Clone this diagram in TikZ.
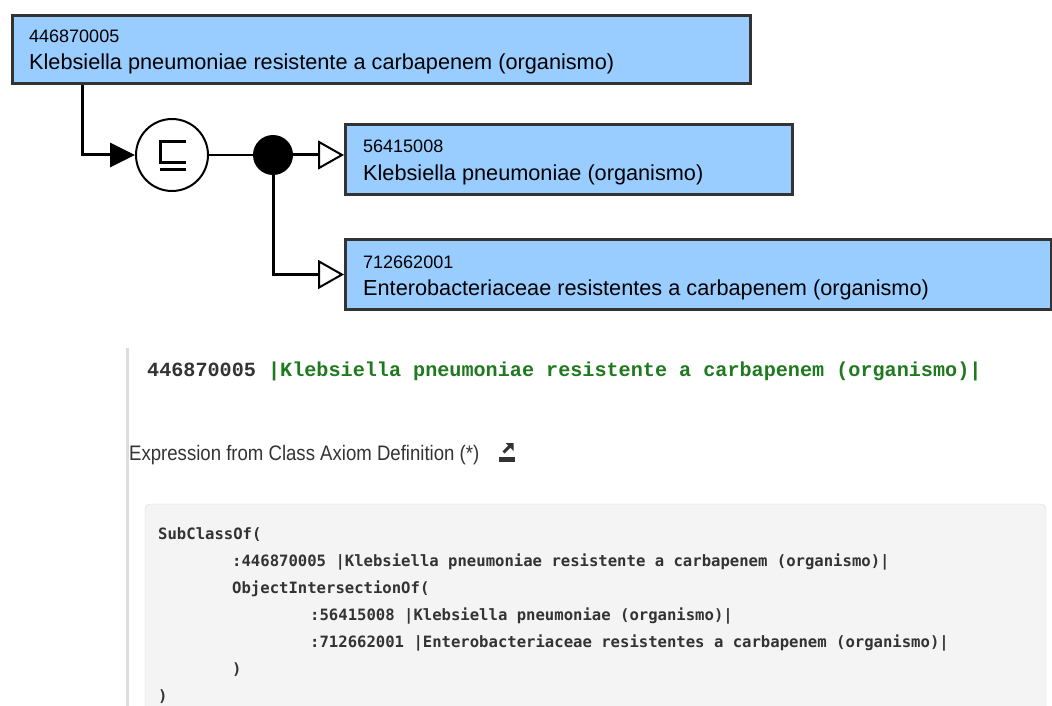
\documentclass[tikz,border=0pt]{standalone}
\usepackage{fontspec}
\usepackage{graphicx}
\setmainfont{Liberation Sans}
\newfontfamily\hdrmono{Liberation Mono}
\newfontfamily\codemono{DejaVu Sans Mono}
\usetikzlibrary{arrows.meta,calc}
\definecolor{boxfill}{HTML}{99CCFF}
\definecolor{boxedge}{HTML}{333333}
\definecolor{ink}{HTML}{333333}
\definecolor{termgreen}{HTML}{1F7A1F}
\definecolor{codebg}{HTML}{F4F4F4}
\definecolor{codeedge}{HTML}{D9D9D9}
\definecolor{rulegray}{HTML}{DDDDDD}
\tikzset{
  concept/.style={draw=boxedge, fill=boxfill, line width=3pt, rectangle,
    inner sep=0pt, anchor=north west},
  cid/.style={anchor=base west, inner sep=0pt, font=\fontsize{18}{20}\selectfont, text=black},
  cname/.style={anchor=base west, inner sep=0pt, font=\fontsize{21.7}{24}\selectfont, text=black},
  codeline/.style={anchor=base west, inner sep=0pt, text=ink,
    font=\codemono\bfseries\fontsize{15.6}{18}\selectfont},
  isa/.style={line width=3pt, -{Triangle[length=25pt,width=24pt]}},
  part/.style={line width=3pt, -{Triangle[length=26pt,width=29pt,fill=white,line width=2pt]}},
}
\begin{document}
\begin{tikzpicture}[x=1pt,y=-1pt]
\useasboundingbox (0,0) rectangle (1052,706);
\clip (0,0) rectangle (1052,706);

% concept boxes
\node[concept, minimum width=738pt, minimum height=68pt] (c1) at (11,14) {};
\node[concept, minimum width=447pt, minimum height=70pt] (c2) at (344,123) {};
\node[concept, minimum width=706pt, minimum height=70pt] (c3) at (344,238) {};

\node[cid]   (c1id)   at (29,43)  {446870005};
\node[cname] (c1name) at (29,70)  {Klebsiella pneumoniae resistente a carbapenem (organismo)};
\node[cid]   (c2id)   at (363,153) {56415008};
\node[cname] (c2name) at (363,180) {Klebsiella pneumoniae (organismo)};
\node[cid]   (c3id)   at (363,268) {712662001};
\node[cname] (c3name) at (363,295) {Enterobacteriaceae resistentes a carbapenem (organismo)};

% subsumption operator and conjunction point
\node[circle, draw, line width=2pt, minimum size=72pt, inner sep=0pt] (sub) at (172,155) {};
\begin{scope}[shift={(sub.center)}, line width=3pt]
  \draw (14,-13) -- (-12,-13) -- (-12,7) -- (14,7);
  \draw (-12,14) -- (14,14);
\end{scope}
\node[circle, fill=black, minimum size=40pt, inner sep=0pt] (join) at (273,155) {};

% connectors
\draw[isa] ([xshift=71pt]c1.south west) |- (sub.west);
\draw[line width=2pt] (sub.east) -- (join.west);
\draw[part] (join.east) -- (c2.west |- join);
\draw[part] (join.south) |- (c3.west);

% definition panel
\draw[rulegray, line width=3pt] (127,348) -- (127,706);
\node[anchor=base west, inner sep=0pt, font=\hdrmono\bfseries\fontsize{20.15}{24}\selectfont] (title) at (147,376)
  {\textcolor{ink}{446870005 }\textcolor{termgreen}{|Klebsiella pneumoniae resistente a carbapenem (organismo)|}};
\node[anchor=base west, inner sep=0pt, font=\fontsize{21}{24}\selectfont, text=ink] (hdr) at (129,460)
  {\scalebox{0.885}[1]{Expression from Class Axiom Definition (*)}};

% export icon
\begin{scope}[ink]
  \draw[line width=3pt] (503.5,452.5) -- (510,446);
  \fill (505.5,443) -- (513.5,443) -- (513.5,451) -- cycle;
  \fill (499,457) rectangle (515,461.5);
\end{scope}

% code block
\draw[codeedge, fill=codebg, rounded corners=5pt] (145,504) rectangle (1046,740);
\node[codeline] (l1) at (158,539) {SubClassOf(};
\node[codeline] (l2) at (232,566) {:446870005 |Klebsiella pneumoniae resistente a carbapenem (organismo)|};
\node[codeline] (l3) at (232,593) {ObjectIntersectionOf(};
\node[codeline] (l4) at (310,620) {:56415008 |Klebsiella pneumoniae (organismo)|};
\node[codeline] (l5) at (310,647) {:712662001 |Enterobacteriaceae resistentes a carbapenem (organismo)|};
\node[codeline] (l6) at (232,674) {)};
\node[codeline] (l7) at (158,701) {)};
\end{tikzpicture}
\end{document}
